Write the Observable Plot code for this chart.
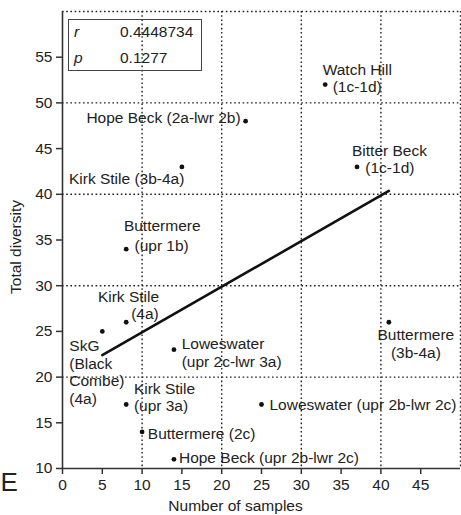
<!DOCTYPE html>
<html>
<head>
<meta charset="utf-8">
<script src="https://cdn.jsdelivr.net/npm/d3@7"></script>
<script src="https://cdn.jsdelivr.net/npm/@observablehq/plot@0.6"></script>
<style>
  body { margin: 0; background: #fff; }
  #chart { position: relative; width: 461px; height: 515px; font-family: "Liberation Sans", Arial, sans-serif; }
  #stats { position: absolute; left: 68px; top: 19px; width: 134px; height: 52px; box-sizing: border-box;
           border: 1.5px solid #444; font-size: 15.5px; color: #222; }
  #stats div { position: absolute; line-height: 1; }
  #stats .k { left: 5px; font-style: italic; }
  #stats .v { left: 51px; }
</style>
</head>
<body>
<div id="chart"></div>
<script>
// Sites (line breaks as printed next to each point)
const sites = [
  "Watch Hill\n(1c-1d)",
  "Bitter Beck\n(1c-1d)",
  "Hope Beck (2a-lwr 2b)",
  "Kirk Stile (3b-4a)",
  "Buttermere\n(upr 1b)",
  "Kirk Stile\n(4a)",
  "SkG\n(Black\nCombe)\n(4a)",
  "Loweswater\n(upr 2c-lwr 3a)",
  "Buttermere\n(3b-4a)",
  "Kirk Stile\n(upr 3a)",
  "Buttermere (2c)",
  "Hope Beck (upr 2b-lwr 2c)",
  "Loweswater (upr 2b-lwr 2c)"
];
const samples   = [33, 37, 23, 15, 8, 8, 5, 14, 41, 8, 10, 14, 25];
const diversity = [52, 43, 48, 43, 34, 26, 25, 23, 26, 17, 14, 11, 17];

// Correlation summary
const statNames  = ["r", "p"];
const statValues = ["0.4448734", "0.1277"];

// Axes
const xTicks = [0, 5, 10, 15, 20, 25, 30, 35, 40, 45];
const yTicks = [10, 15, 20, 25, 30, 35, 40, 45, 50, 55];
const xGrid  = [10, 20, 30, 40, 50];
const yGrid  = [20, 30, 40, 50, 60];
const xDomain = [0, 50];
const yDomain = [10, 60];

// Label placement next to each point: text anchor and [dx, dy] per printed line
const labelLayout = [
  {anchor: "start",  lines: [[-2.5, -15], [7.5, 2]]},
  {anchor: "start",  lines: [[-5, -16], [8.3, 1]]},
  {anchor: "end",    lines: [[-5, -2.7]]},
  {anchor: "end",    lines: [[2.5, 12]]},
  {anchor: "start",  lines: [[-2.3, -22.7], [8.3, -3.5]]},
  {anchor: "start",  lines: [[-28.3, -25.4], [5, -8]]},
  {anchor: "start",  lines: [[-33, 14.7], [-33, 32.4], [-33, 50.1], [-33, 67.8]]},
  {anchor: "start",  lines: [[7.7, -6], [7.7, 12]]},
  {anchor: "middle", lines: [[27, 13], [27, 30.5]]},
  {anchor: "start",  lines: [[7.7, -15.2], [7.7, 2]]},
  {anchor: "start",  lines: [[5.7, 2.3]]},
  {anchor: "start",  lines: [[5, -1.3]]},
  {anchor: "start",  lines: [[8, 0.6]]}
];

const data = sites.map((site, i) => ({site, samples: samples[i], diversity: diversity[i]}));

const font = {fontFamily: "\"Liberation Sans\", Arial, sans-serif"};
const ink = "#222";

const labelMarks = data.flatMap((d, i) => {
  const parts = d.site.split("\n");
  const layout = labelLayout[i];
  return parts.map((line, j) => Plot.text([d], {
    x: "samples", y: "diversity", text: () => line,
    dx: layout.lines[j][0], dy: layout.lines[j][1],
    textAnchor: layout.anchor, lineAnchor: "middle",
    fontSize: 15.5, fill: ink
  }));
});

const chart = Plot.plot({
  width: 461,
  height: 515,
  marginLeft: 62,
  marginRight: 1,
  marginTop: 11,
  marginBottom: 47,
  style: {...font, background: "#fff", overflow: "visible"},
  x: {domain: xDomain},
  y: {domain: yDomain},
  marks: [
    Plot.ruleX(xGrid, {stroke: ink, strokeWidth: 1.4, strokeDasharray: "1.6,2.6"}),
    Plot.ruleY(yGrid, {stroke: ink, strokeWidth: 1.4, strokeDasharray: "1.6,2.6"}),
    Plot.ruleX([xDomain[0]], {stroke: "#333", strokeWidth: 1.6}),
    Plot.ruleY([yDomain[0]], {stroke: "#333", strokeWidth: 1.6}),
    Plot.axisX({ticks: xTicks, tickSize: 6, tickPadding: 4, fontSize: 15.5, label: null, stroke: "#333", strokeWidth: 1.5, fill: ink}),
    Plot.axisY({ticks: yTicks, tickSize: 6, tickPadding: 4, fontSize: 15.5, label: null, stroke: "#333", strokeWidth: 1.5, fill: ink}),
    Plot.linearRegressionY(data, {x: "samples", y: "diversity", ci: 0, stroke: "#111", strokeWidth: 2.6}),
    Plot.dot(data, {x: "samples", y: "diversity", r: 2.4, fill: "#111", stroke: "none"}),
    ...labelMarks,
    Plot.text(["Number of samples"], {text: d => d, frameAnchor: "bottom", textAnchor: "middle", dx: -26, dy: 37.5, fontSize: 15.5, fill: ink, lineAnchor: "middle"}),
    Plot.text(["Total diversity"], {text: d => d, frameAnchor: "left", textAnchor: "middle", rotate: -90, dx: -46.5, dy: 7, fontSize: 15.5, fill: ink, lineAnchor: "middle"}),
    Plot.text(["E"], {text: d => d, frameAnchor: "bottom-left", dx: -62, dy: 14, fontSize: 26, fill: ink, textAnchor: "start", lineAnchor: "middle"})
  ]
});

const host = document.getElementById("chart");
host.appendChild(chart);

// r / p box in the upper-left corner
const box = document.createElement("div");
box.id = "stats";
const rowTops = [3.5, 29.5];
statNames.forEach((name, i) => {
  const k = document.createElement("div");
  k.className = "k"; k.textContent = name; k.style.top = rowTops[i] + "px";
  const v = document.createElement("div");
  v.className = "v"; v.textContent = statValues[i]; v.style.top = rowTops[i] + "px";
  box.appendChild(k); box.appendChild(v);
});
host.appendChild(box);
</script>
</body>
</html>
